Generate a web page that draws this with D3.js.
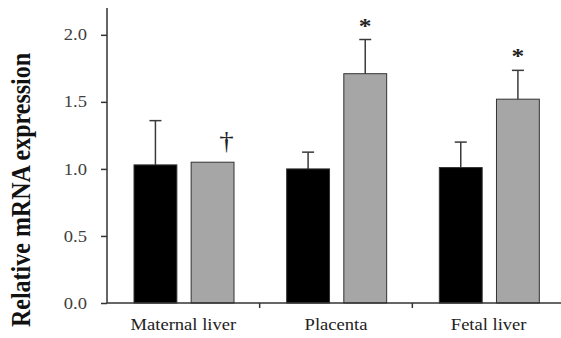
<!DOCTYPE html>
<html>
<head>
<meta charset="utf-8">
<script src="https://cdn.jsdelivr.net/npm/d3@7"></script>
<style>
  html, body { margin: 0; padding: 0; background: #fff; }
  svg { display: block; }
</style>
</head>
<body>
<svg id="chart" width="561" height="338"></svg>
<script>
// Tissues along the x axis and the two groups drawn in each
const categories = ["Maternal liver", "Placenta", "Fetal liver"];
const groups = ["control", "treated"];
const controlMean = [1.03, 1.00, 1.01];
const controlErr = [0.33, 0.125, 0.19];
const treatedMean = [1.05, 1.71, 1.52];
const treatedErr = [0.00, 0.255, 0.215];
const treatedMark = ["\u2020", "*", "*"];
const yTicks = [0, 0.5, 1.0, 1.5, 2.0];

const svg = d3.select("#chart");
const x0 = 107, xEnd = 565, yBottom = 303, yTop = 8;
const serif = "'Liberation Serif', 'Times New Roman', serif";
const sx = 1.16; // text is set slightly wide

const y = d3.scaleLinear().domain([0, 2.2]).range([yBottom, yTop]);
const xCat = d3.scaleBand().domain(categories).range([x0, xEnd]).paddingInner(0).paddingOuter(0);
const xGrp = d3.scaleBand().domain(groups).range([27, 127]).paddingInner(0.25).paddingOuter(0);

const fill = { control: "#000000", treated: "#a6a6a6" };

const rows = [];
categories.forEach((c, i) => {
  rows.push({ cat: c, grp: "control", v: controlMean[i], e: controlErr[i], mark: "" });
  rows.push({ cat: c, grp: "treated", v: treatedMean[i], e: treatedErr[i], mark: treatedMark[i] });
});

// error bars (upper half only), drawn beneath the bars
const eb = svg.append("g").attr("stroke", "#3a3a3a").attr("stroke-width", 1.5);
rows.filter(d => d.e > 0).forEach(d => {
  const cx = xCat(d.cat) + xGrp(d.grp) + xGrp.bandwidth() / 2;
  eb.append("line").attr("x1", cx).attr("x2", cx).attr("y1", y(d.v)).attr("y2", y(d.v + d.e));
  eb.append("line").attr("x1", cx - 6).attr("x2", cx + 6).attr("y1", y(d.v + d.e)).attr("y2", y(d.v + d.e));
});

// bars
svg.append("g").selectAll("rect").data(rows).join("rect")
  .attr("x", d => xCat(d.cat) + xGrp(d.grp))
  .attr("y", d => y(d.v))
  .attr("width", xGrp.bandwidth())
  .attr("height", d => yBottom - y(d.v))
  .attr("fill", d => fill[d.grp])
  .attr("stroke", "#333")
  .attr("stroke-width", 1);

// significance marks
svg.append("g").selectAll("text").data(rows.filter(d => d.mark)).join("text")
  .attr("transform", d => {
    const cx = xCat(d.cat) + xGrp(d.grp) + xGrp.bandwidth() / 2 + (d.mark === "*" ? 0 : 14);
    const ty = d.mark === "*" ? y(d.v + d.e) - 7 : y(d.v) - 13;
    return `translate(${cx},${ty}) scale(${sx},1)`;
  })
  .attr("text-anchor", "middle")
  .attr("font-family", serif)
  .attr("font-size", d => d.mark === "*" ? 22 : 25)
  .attr("font-weight", d => d.mark === "*" ? "bold" : "normal")
  .attr("fill", "#222")
  .text(d => d.mark);

// y axis
const yAxis = svg.append("g").attr("transform", `translate(${x0},0)`)
  .call(d3.axisLeft(y).tickValues(yTicks).tickFormat(d3.format(".1f")).tickSize(6).tickPadding(11));
yAxis.select(".domain").attr("d", `M0,${yTop}V${yBottom}`);
yAxis.selectAll("line, path").attr("stroke", "#333").attr("stroke-width", 1.5);
yAxis.selectAll("text")
  .attr("x", -20 / sx)
  .attr("transform", `scale(${sx},1)`)
  .attr("font-family", serif)
  .attr("font-size", 16).attr("fill", "#404040");

// x axis with ticks between categories
const xAxis = svg.append("g").attr("transform", `translate(0,${yBottom})`);
xAxis.append("line").attr("x1", x0).attr("x2", 561).attr("y1", 0).attr("y2", 0)
  .attr("stroke", "#333").attr("stroke-width", 1.5);
xAxis.selectAll("line.sep").data(categories.slice(1)).join("line").attr("class", "sep")
  .attr("x1", d => xCat(d)).attr("x2", d => xCat(d)).attr("y1", 0).attr("y2", 5)
  .attr("stroke", "#333").attr("stroke-width", 1.5);
xAxis.selectAll("text").data(categories).join("text")
  .attr("transform", d => `translate(${xCat(d) + xCat.bandwidth() / 2},27) scale(${sx},1)`)
  .attr("text-anchor", "middle")
  .attr("font-family", serif)
  .attr("font-size", 16).attr("fill", "#222")
  .text(d => d);

// y axis title
svg.append("text")
  .attr("transform", `translate(30,190) scale(${sx},1) rotate(-90)`)
  .attr("text-anchor", "middle")
  .attr("font-family", serif)
  .attr("font-size", 24).attr("font-weight", "bold").attr("fill", "#111")
  .text("Relative mRNA expression");
</script>
</body>
</html>
